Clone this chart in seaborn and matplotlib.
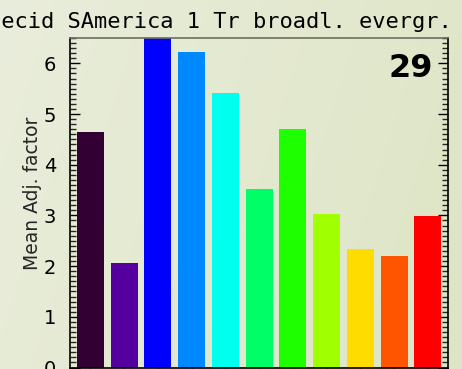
import matplotlib
matplotlib.use("Agg")
import matplotlib.pyplot as plt
import numpy as np
import seaborn as sns
from matplotlib.colors import LinearSegmentedColormap
from matplotlib.ticker import MultipleLocator

# values
categories = ["1", "2", "3", "4", "5", "6", "7", "8", "9", "10", "11"]
mean_adj = [4.64, 2.06, 6.6, 6.22, 5.42, 3.53, 4.70, 3.03, 2.34, 2.19, 2.99]
bar_colors = ["#330033", "#55009e", "#0000ff", "#0088ff", "#00ffee", "#00ff66",
              "#1eff00", "#a0ff00", "#ffdc00", "#ff5500", "#ff0000"]
title_text = "Decid SAmerica 1 Tr broadl. evergr."
panel_number = "29"

sns.set_style("ticks")
plt.rcParams["font.family"] = ["DejaVu Sans"]

fig = plt.figure(figsize=(4.62, 3.69), dpi=100)

# soft green-beige gradient background over the whole figure
bg = fig.add_axes([0, 0, 1, 1], zorder=0)
grad_cmap = LinearSegmentedColormap.from_list("bg", ["#e9eddb", "#dee5c5"])
gx, gy = np.meshgrid(np.linspace(0, 1, 200), np.linspace(0, 1, 200))
bg.imshow(0.8 * gx + 0.2 * gy, cmap=grad_cmap, aspect="auto", extent=[0, 1, 0, 1])
bg.axis("off")

ax = fig.add_axes([70 / 462, 1 - 367.5 / 369, 378 / 462, 329.5 / 369], zorder=1)
ax.patch.set_alpha(0)

sns.barplot(x=categories, y=mean_adj, hue=categories, palette=bar_colors,
            width=0.8, saturation=1, linewidth=0, legend=False, ax=ax)

ax.set_xlim(-0.6, 10.6)
ax.set_ylim(0, 6.5)
ax.yaxis.set_major_locator(MultipleLocator(1))
ax.yaxis.set_minor_locator(MultipleLocator(0.1))
ax.tick_params(axis="y", which="major", direction="in", length=7, width=1,
               left=True, right=True, labelsize=14, pad=10, colors="black")
ax.tick_params(axis="y", which="minor", direction="in", length=4, width=1,
               left=True, right=True)
ax.tick_params(axis="x", which="major", direction="in", length=5, width=1,
               bottom=True, top=False, labelbottom=False)
ax.set_xlabel("")
ax.set_ylabel("Mean Adj. factor", fontsize=13.5)
ax.yaxis.set_label_coords(-0.075, 0.53)

for side in ["left", "right", "bottom"]:
    ax.spines[side].set_visible(True)
    ax.spines[side].set_color("black")
    ax.spines[side].set_linewidth(1.2)
ax.spines["top"].set_visible(True)
ax.spines["top"].set_color("#6e6e60")
ax.spines["top"].set_linewidth(1.2)

ax.text(0.96, 0.955, panel_number, transform=ax.transAxes, ha="right", va="top",
        fontsize=23, fontweight="bold", color="black")

fig.text(452 / 462, 1 - 22 / 369, title_text, ha="right", va="center",
         fontsize=15.8, family="DejaVu Sans Mono", color="black")

fig.savefig("out.png", dpi=100)
